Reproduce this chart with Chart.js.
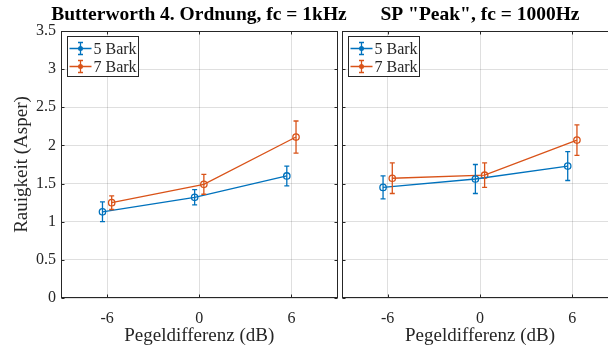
<!DOCTYPE html>
<html>
<head>
<meta charset="utf-8">
<script src="https://cdn.jsdelivr.net/npm/chart.js@4.4.0/dist/chart.umd.min.js"></script>
<style>
  html, body { margin: 0; padding: 0; background: #fff; }
  #wrap { position: relative; width: 608px; height: 347px; overflow: hidden; }
  canvas { position: absolute; top: 0; }
  #left { left: 0; }
  #right { left: 330px; }
</style>
</head>
<body>
<div id="wrap">
  <canvas id="left" width="398" height="347"></canvas>
  <canvas id="right" width="300" height="347"></canvas>
</div>
<script>
// --- data ---
const levels = [-6, 0, 6];                 // Pegeldifferenz (dB)
const xTickLabels = ['-6', '0', '6'];
const yTickValues = [0, 0.5, 1, 1.5, 2, 2.5, 3, 3.5];
const seriesNames = ['5 Bark', '7 Bark'];

const butterworth5 = [1.13, 1.32, 1.60];
const butterworth5Err = [0.13, 0.10, 0.13];
const butterworth7 = [1.25, 1.49, 2.11];
const butterworth7Err = [0.09, 0.13, 0.21];

const peak5 = [1.45, 1.56, 1.73];
const peak5Err = [0.15, 0.19, 0.19];
const peak7 = [1.57, 1.61, 2.07];
const peak7Err = [0.20, 0.16, 0.20];

const colors = ['#0072BD', '#D95319'];
const dodge = 0.3; // small horizontal shift so the error bars don't overlap
const serif = "'Liberation Serif', 'Times New Roman', serif";
const axisColor = '#262626';

// error bars + box + inward ticks + legend
const errorBars = {
  id: 'errorBars',
  afterDatasetsDraw(chart) {
    const { ctx } = chart;
    const x = chart.scales.x, y = chart.scales.y;
    chart.data.datasets.forEach((ds) => {
      ctx.save();
      ctx.strokeStyle = ds.borderColor;
      ctx.lineWidth = 1.3;
      ds.data.forEach((p, j) => {
        const px = x.getPixelForValue(p.x);
        const top = y.getPixelForValue(p.y + ds.errors[j]);
        const bot = y.getPixelForValue(p.y - ds.errors[j]);
        ctx.beginPath();
        ctx.moveTo(px, top); ctx.lineTo(px, bot);
        ctx.moveTo(px - 2.5, top); ctx.lineTo(px + 2.5, top);
        ctx.moveTo(px - 2.5, bot); ctx.lineTo(px + 2.5, bot);
        ctx.stroke();
      });
      ctx.restore();
    });
  },
  afterDraw(chart) {
    const { ctx, chartArea: a } = chart;
    const x = chart.scales.x, y = chart.scales.y;
    const L = Math.round(a.left) + 0.5, R = Math.round(a.right) - 0.5;
    const T = Math.round(a.top) + 0.5, B = Math.round(a.bottom) - 0.5;
    ctx.save();
    ctx.strokeStyle = axisColor;
    ctx.lineWidth = 1;
    ctx.strokeRect(L, T, R - L, B - T);
    ctx.beginPath();
    y.ticks.forEach(t => {
      const py = Math.round(y.getPixelForValue(t.value)) + 0.5;
      ctx.moveTo(L, py); ctx.lineTo(L + 3, py);
      ctx.moveTo(R, py); ctx.lineTo(R - 3, py);
    });
    x.ticks.forEach(t => {
      const px = Math.round(x.getPixelForValue(t.value)) + 0.5;
      ctx.moveTo(px, B); ctx.lineTo(px, B - 3);
      ctx.moveTo(px, T); ctx.lineTo(px, T + 3);
    });
    ctx.stroke();

    // legend, upper left inside the axes
    const bx = Math.round(a.left) + 6.5, by = Math.round(a.top) + 5.5;
    ctx.fillStyle = '#fff';
    ctx.fillRect(bx, by, 71, 40);
    ctx.strokeStyle = axisColor;
    ctx.strokeRect(bx, by, 71, 40);
    ctx.font = '16px ' + serif;
    ctx.textBaseline = 'middle';
    chart.data.datasets.forEach((ds, i) => {
      const cy = by + 12 + i * 18;
      const cx = bx + 13;
      ctx.strokeStyle = ds.borderColor;
      ctx.lineWidth = 1.3;
      ctx.beginPath();
      ctx.moveTo(bx + 2, cy); ctx.lineTo(bx + 24, cy);
      ctx.moveTo(cx, cy - 6); ctx.lineTo(cx, cy + 6);
      ctx.moveTo(cx - 2.5, cy - 6); ctx.lineTo(cx + 2.5, cy - 6);
      ctx.moveTo(cx - 2.5, cy + 6); ctx.lineTo(cx + 2.5, cy + 6);
      ctx.stroke();
      ctx.beginPath();
      ctx.arc(cx, cy, 2.5, 0, Math.PI * 2);
      ctx.fillStyle = ds.borderColor;
      ctx.fill();
      ctx.fillStyle = axisColor;
      ctx.fillText(ds.label, bx + 26, cy + 1);
    });
    ctx.restore();
  }
};

const makeDataset = (label, vals, errs, idx) => ({
  label: label,
  data: levels.map((lv, k) => ({ x: lv + (idx === 0 ? -dodge : dodge), y: vals[k] })),
  errors: errs,
  borderColor: colors[idx],
  backgroundColor: colors[idx],
  borderWidth: 1.3,
  pointStyle: 'circle',
  pointRadius: 3.2,
  pointBorderWidth: 1.3,
  pointBackgroundColor: 'rgba(0,0,0,0)',
  pointBorderColor: colors[idx],
  tension: 0
});

const buildChart = (canvasId, title, sets, isLeft, rightSpace) => {
  return new Chart(document.getElementById(canvasId), {
    type: 'line',
    data: { datasets: sets },
    options: {
      responsive: false,
      animation: false,
      devicePixelRatio: 1,
      layout: { padding: 0 },
      plugins: {
        legend: { display: false },
        tooltip: { enabled: false },
        title: {
          display: true,
          text: title,
          color: '#000',
          font: { family: serif, size: 19.5, weight: 'bold' },
          padding: { top: 3.5, bottom: 4.1 }
        }
      },
      scales: {
        x: {
          type: 'linear',
          min: -9, max: 9,
          afterBuildTicks: (s) => { s.ticks = levels.map(v => ({ value: v })); },
          afterFit: (s) => { s.height = 49; },
          grid: { color: 'rgba(38,38,38,0.15)', drawTicks: false },
          border: { display: false },
          ticks: {
            color: axisColor,
            font: { family: serif, size: 16 },
            padding: 11,
            callback: (v) => xTickLabels[levels.indexOf(v)]
          },
          title: {
            display: true,
            text: 'Pegeldifferenz (dB)',
            color: axisColor,
            font: { family: serif, size: 19 },
            padding: { top: 0, bottom: 0 }
          }
        },
        y: {
          min: 0, max: 3.5,
          afterBuildTicks: (s) => { s.ticks = yTickValues.map(v => ({ value: v })); },
          afterFit: (s) => { s.width = isLeft ? 61 : 11.5; },
          grid: { color: 'rgba(38,38,38,0.15)', drawTicks: false },
          border: { display: false },
          ticks: {
            display: isLeft,
            color: axisColor,
            font: { family: serif, size: 16 },
            padding: 5,
            callback: (v) => String(v)
          },
          title: {
            display: isLeft,
            text: 'Rauigkeit (Asper)',
            color: axisColor,
            font: { family: serif, size: 19 },
            padding: { top: 10.5, bottom: 0 }
          }
        },
        // empty right axis only reserves space, so the title centres over the axes
        yRight: {
          position: 'right',
          min: 0, max: 3.5,
          afterFit: (s) => { s.width = rightSpace; },
          grid: { display: false },
          border: { display: false },
          ticks: { display: false }
        }
      }
    },
    plugins: [errorBars]
  });
};

buildChart('left', 'Butterworth 4. Ordnung, fc = 1kHz', [
  makeDataset(seriesNames[0], butterworth5, butterworth5Err, 0),
  makeDataset(seriesNames[1], butterworth7, butterworth7Err, 1)
], true, 60.5);

buildChart('right', 'SP "Peak", fc = 1000Hz', [
  makeDataset(seriesNames[0], peak5, peak5Err, 0),
  makeDataset(seriesNames[1], peak7, peak7Err, 1)
], false, 11.5);
</script>
</body>
</html>
